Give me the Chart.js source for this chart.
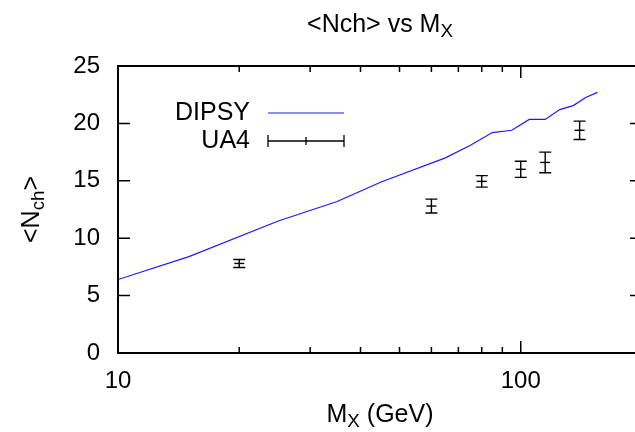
<!DOCTYPE html>
<html>
<head>
<meta charset="utf-8">
<script src="https://cdn.jsdelivr.net/npm/chart.js@4/dist/chart.umd.min.js"></script>
<style>
  html, body { margin: 0; padding: 0; background: #fff; overflow: hidden; }
  #wrap { width: 660px; height: 432px; }
</style>
</head>
<body>
<div id="wrap"><canvas id="nchChart" width="660" height="432"></canvas></div>
<script>
// DIPSY curve
const dipsyMass = [10, 15, 25, 35, 45, 65, 75, 85, 95, 105, 115, 125, 135, 145, 155];
const dipsyNch  = [6.4, 8.4, 11.5, 13.2, 14.9, 17.0, 18.1, 19.2, 19.4, 20.35, 20.35, 21.2, 21.55, 22.25, 22.7];

// UA4 measurements with errors
const ua4Mass = [20, 60, 80, 100, 115, 140];
const ua4Nch  = [7.8, 12.8, 14.95, 16.0, 16.6, 19.4];
const ua4Err  = [0.35, 0.6, 0.5, 0.7, 0.9, 0.8];

const xTicks = [10, 20, 30, 40, 50, 60, 70, 80, 90, 100];
const xLabels = [10, 100];

const FONT = '"Liberation Sans", Arial, Helvetica, sans-serif';

function drawParts(ctx, parts, x, y, size) {
    // parts: [text, isSub]
    let w = 0;
    parts.forEach(p => {
        ctx.font = (p[1] ? size * 0.75 : size) + 'px ' + FONT;
        w += ctx.measureText(p[0]).width;
    });
    let cx = x - w / 2;
    parts.forEach(p => {
        ctx.font = (p[1] ? size * 0.75 : size) + 'px ' + FONT;
        ctx.fillText(p[0], cx, p[1] ? y + size * 0.28 : y);
        cx += ctx.measureText(p[0]).width;
    });
}

const gnuplotLook = {
    id: 'gnuplotLook',
    afterDatasetsDraw(chart) {
        const { ctx, chartArea: a, scales: { x, y } } = chart;
        ctx.save();
        ctx.strokeStyle = '#000';

        // error bars
        ctx.lineWidth = 1.4;
        ua4Mass.forEach((m, i) => {
            const px = x.getPixelForValue(m);
            const top = y.getPixelForValue(ua4Nch[i] + ua4Err[i]);
            const bot = y.getPixelForValue(ua4Nch[i] - ua4Err[i]);
            ctx.beginPath();
            ctx.moveTo(px, top); ctx.lineTo(px, bot);
            ctx.moveTo(px - 6, top); ctx.lineTo(px + 6, top);
            ctx.moveTo(px - 6, bot); ctx.lineTo(px + 6, bot);
            ctx.stroke();
        });

        // inward ticks
        ctx.lineWidth = 1.5;
        ctx.beginPath();
        [5, 10, 15, 20].forEach(v => {
            const py = y.getPixelForValue(v);
            ctx.moveTo(a.left, py); ctx.lineTo(a.left + 12, py);
            ctx.moveTo(a.right, py); ctx.lineTo(a.right - 12, py);
        });
        xTicks.forEach(v => {
            const px = x.getPixelForValue(v);
            const len = (v === 10 || v === 100) ? 12 : 6;
            ctx.moveTo(px, a.bottom); ctx.lineTo(px, a.bottom - len);
            ctx.moveTo(px, a.top); ctx.lineTo(px, a.top + len);
        });
        ctx.stroke();

        // frame
        ctx.lineWidth = 2;
        ctx.strokeRect(a.left, a.top, a.right - a.left, a.bottom - a.top);

        // legend
        ctx.fillStyle = '#000';
        ctx.font = '25px ' + FONT;
        ctx.textAlign = 'right';
        ctx.textBaseline = 'middle';
        const ds = chart.data.datasets;
        ctx.fillText(ds[0].label, 250, 113);
        ctx.fillText(ds[1].label, 250, 141);
        ctx.strokeStyle = ds[0].borderColor;
        ctx.lineWidth = 1.2;
        ctx.beginPath(); ctx.moveTo(268, 113); ctx.lineTo(344, 113); ctx.stroke();
        ctx.strokeStyle = '#000';
        ctx.lineWidth = 1.3;
        ctx.beginPath();
        ctx.moveTo(268, 141); ctx.lineTo(344, 141);
        ctx.moveTo(268, 135); ctx.lineTo(268, 147);
        ctx.moveTo(344, 135); ctx.lineTo(344, 147);
        ctx.moveTo(306, 137); ctx.lineTo(306, 145);
        ctx.stroke();

        // titles
        ctx.textAlign = 'left';
        ctx.textBaseline = 'middle';
        const midX = (a.left + a.right) / 2;
        drawParts(ctx, [['<Nch> vs M', false], ['X', true]], midX, 25, 25);
        drawParts(ctx, [['M', false], ['X', true], [' (GeV)', false]], midX, 415, 25);
        ctx.translate(32, (a.top + a.bottom) / 2);
        ctx.rotate(-Math.PI / 2);
        drawParts(ctx, [['<N', false], ['ch', true], ['>', false]], 0, 0, 25);
        ctx.restore();
    }
};

new Chart(document.getElementById('nchChart'), {
    type: 'line',
    data: {
        datasets: [{
            label: 'DIPSY',
            data: dipsyMass.map((m, i) => ({ x: m, y: dipsyNch[i] })),
            borderColor: '#1a1aff',
            borderWidth: 1.2,
            pointRadius: 0,
            tension: 0,
            fill: false
        }, {
            label: 'UA4',
            data: ua4Mass.map((m, i) => ({ x: m, y: ua4Nch[i] })),
            showLine: false,
            pointStyle: 'line',
            pointRadius: 5,
            borderColor: '#000',
            borderWidth: 1.4
        }]
    },
    options: {
        responsive: false,
        animation: false,
        devicePixelRatio: 1,
        layout: { padding: { top: 66, right: 18, left: 0, bottom: 0 } },
        plugins: { legend: { display: false }, tooltip: { enabled: false } },
        scales: {
            x: {
                type: 'logarithmic',
                min: 10,
                max: 200,
                grid: { display: false, drawTicks: false },
                border: { display: false },
                afterBuildTicks: s => { s.ticks = xTicks.map(v => ({ value: v })); },
                afterFit: s => { s.height = 79; },
                ticks: {
                    autoSkip: false,
                    maxRotation: 0,
                    padding: 14,
                    color: '#000',
                    font: { family: FONT, size: 24 },
                    callback: v => xLabels.includes(v) ? String(v) : ''
                }
            },
            y: {
                min: 0,
                max: 25,
                grid: { display: false, drawTicks: false },
                border: { display: false },
                afterFit: s => { s.width = 118; },
                ticks: {
                    stepSize: 5,
                    padding: 18,
                    color: '#000',
                    font: { family: FONT, size: 24 }
                }
            }
        }
    },
    plugins: [gnuplotLook]
});
</script>
</body>
</html>
